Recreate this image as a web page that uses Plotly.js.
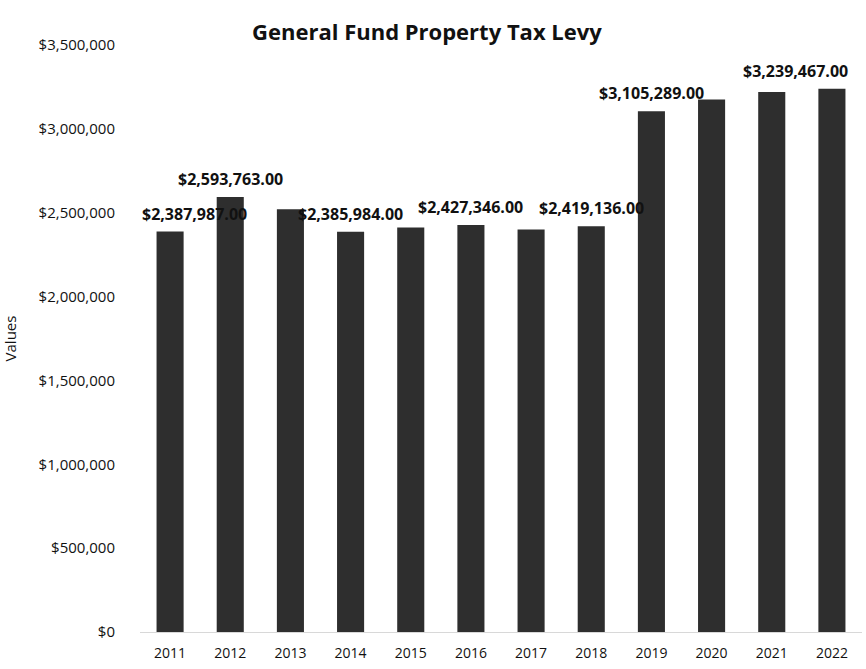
<!DOCTYPE html>
<html>
<head>
<meta charset="utf-8">
<script src="https://cdn.plot.ly/plotly-3.0.1.min.js"></script>
<style>html,body{margin:0;padding:0;background:#fff;}#chart{width:866px;height:669px;}</style>
</head>
<body>
<div id="chart"></div>
<script>
const years = [2011, 2012, 2013, 2014, 2015, 2016, 2017, 2018, 2019, 2020, 2021, 2022];
const levy = [2387987, 2593763, 2520000, 2385984, 2412000, 2427346, 2400000, 2419136, 3105289, 3175000, 3220000, 3239467];
const labelShown = [true, true, false, true, false, true, false, true, true, false, false, true];
const yTicks = [0, 500000, 1000000, 1500000, 2000000, 2500000, 3000000, 3500000];

function money(v, dec) {
  return "$" + v.toLocaleString("en-US", {minimumFractionDigits: dec, maximumFractionDigits: dec});
}

const annotations = [];
years.forEach((y, i) => {
  if (!labelShown[i]) return;
  let shift = 0;
  if (i === 0) shift = 24;
  if (i === years.length - 1) shift = -36;
  annotations.push({
    x: y, y: levy[i], xref: "x", yref: "y",
    text: "<b>" + money(levy[i], 2) + "</b>",
    showarrow: false, yanchor: "bottom", xanchor: "center",
    xshift: shift, yshift: 5,
    font: {family: "Open Sans, sans-serif", size: 16, color: "#111"}
  });
});

const trace = {
  type: "bar",
  x: years,
  y: levy,
  marker: {color: "#2e2e2e"},
  hoverinfo: "x+y"
};

const layout = {
  width: 866, height: 669,
  paper_bgcolor: "#fff", plot_bgcolor: "#fff",
  margin: {l: 140, r: 4, t: 45, b: 37},
  title: {text: "<b>General Fund Property Tax Levy</b>", x: 0.493, xanchor: "center", xref: "container",
          y: 0.952, yanchor: "middle", yref: "container",
          font: {family: "Open Sans, sans-serif", size: 22, color: "#111"}},
  bargap: 0.55,
  showlegend: false,
  xaxis: {
    type: "linear",
    range: [2010.5, 2022.5],
    tickmode: "array",
    tickvals: years,
    ticktext: years.map(String),
    showgrid: false, zeroline: false,
    showline: true, linecolor: "#d8d8d8", linewidth: 1,
    ticks: "", ticklabelstandoff: 8,
    tickfont: {family: "Open Sans, sans-serif", size: 14, color: "#111"}
  },
  yaxis: {
    range: [0, 3500000],
    tickmode: "array",
    tickvals: yTicks,
    ticktext: yTicks.map(v => money(v, 0)),
    showgrid: false, zeroline: false, showline: false,
    ticks: "", ticklabelstandoff: 24,
    tickfont: {family: "Open Sans, sans-serif", size: 15, color: "#111"},
    title: {text: "Values", standoff: 22, font: {family: "Open Sans, sans-serif", size: 15, color: "#111"}}
  },
  annotations: annotations
};

Plotly.newPlot("chart", [trace], layout, {displayModeBar: false, staticPlot: true});
</script>
</body>
</html>
